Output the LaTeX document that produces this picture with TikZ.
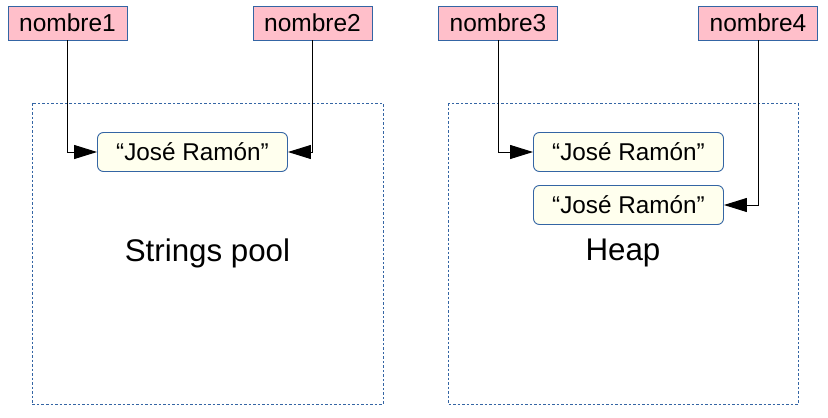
\documentclass[tikz,border=0pt]{standalone}
\usepackage{fontspec}
\setmainfont{Liberation Sans}
\usetikzlibrary{arrows.meta}
\definecolor{lblue}{RGB}{52,101,164}
\definecolor{pinkfill}{RGB}{255,191,202}
\definecolor{cream}{RGB}{255,255,238}
\tikzset{
  varbox/.style={draw=lblue, fill=pinkfill, line width=0.9pt, minimum width=119pt, minimum height=34pt, inner sep=0pt, font=\fontsize{24.5}{27}\selectfont},
  strbox/.style={draw=lblue, fill=cream, line width=0.9pt, rounded corners=6pt, minimum width=190pt, minimum height=39pt, inner sep=0pt, font=\fontsize{24.3}{27}\selectfont},
  area/.style={draw=lblue, line width=0.9pt, dash pattern=on 2.5pt off 2pt},
  conn/.style={draw=black, line width=1pt, -{Triangle[length=23pt,width=14pt]}},
  bigtext/.style={font=\fontsize{31.3}{34}\selectfont}
}
\begin{document}
\begin{tikzpicture}[x=1pt,y=-1pt]
\useasboundingbox (0,0) rectangle (828,418);
% areas
\draw[area] (32,103) rectangle (383,404);
\draw[area] (448,103) rectangle (798,404);
\node[bigtext] (pool) at (207.5,253) {Strings pool};
\node[bigtext] (heap) at (623,253) {Heap};
% variables
\node[varbox] (n1) at (67.5,23) {nombre1};
\node[varbox] (n2) at (312.5,23) {nombre2};
\node[varbox] (n3) at (498,23) {nombre3};
\node[varbox] (n4) at (758,23) {nombre4};
% strings
\node[strbox] (s1) at (192.5,152) {“José Ramón”};
\node[strbox] (s2) at (628.5,152) {“José Ramón”};
\node[strbox] (s3) at (628.5,205) {“José Ramón”};
% connectors
\draw[conn] (n1.south) |- (s1.west);
\draw[conn] (n2.south) |- (s1.east);
\draw[conn] (n3.south) |- (s2.west);
\draw[conn] (n4.south) |- (s3.east);
\end{tikzpicture}
\end{document}
